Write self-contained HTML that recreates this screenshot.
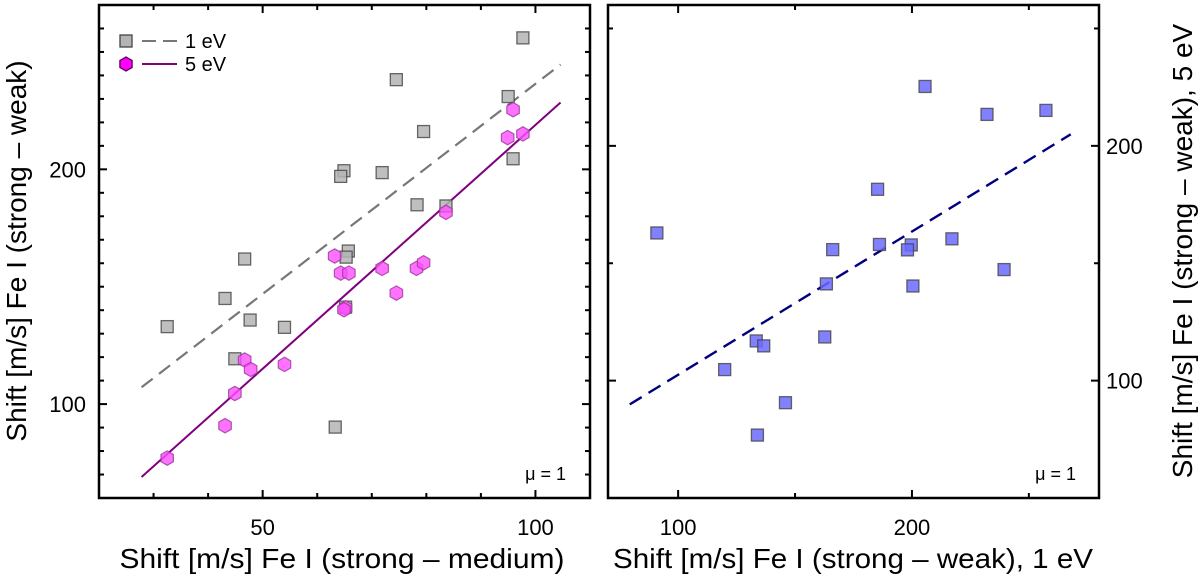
<!DOCTYPE html>
<html><head><meta charset="utf-8">
<style>
html,body{margin:0;padding:0;background:#fff;}
svg{display:block;font-family:"Liberation Sans",Arial,sans-serif;}
</style></head>
<body>
<svg id="chart" width="1200" height="576" viewBox="0 0 1200 576" xmlns="http://www.w3.org/2000/svg"></svg>
<script>
// ---- Left panel data ----
const grayX = [97.7,74.5,95.0,79.5,95.9,64.9,64.3,71.9,78.3,83.6,65.7,65.3,46.7,43.1,32.5,47.7,54.0,44.9,63.3,65.2];
const grayY = [256.0,238.2,231.0,216.1,204.5,199.4,197.0,198.6,184.9,184.4,165.2,162.6,161.8,145.0,133.0,135.8,132.7,119.3,90.2,141.3];
const magX = [95.9,94.9,97.7,83.6,63.2,64.3,65.8,71.9,78.2,79.5,74.5,65.2,64.9,46.7,47.8,54.0,44.9,43.1,32.5];
const magY = [225.4,213.5,215.1,181.7,163.1,155.8,155.8,157.8,157.8,160.2,147.3,141.0,140.2,118.8,114.8,116.9,104.5,90.8,77.0];
const grayFit = [1.79, 57.4];   // slope, intercept
const magFit = [2.077, 11.2];
const leftFitRange = [27.8, 104.6];
const leftXTicks = [30,40,50,60,70,80,90,100];
const leftXLabels = [50,100];
const leftYTicks = [70,80,90,100,110,120,130,140,150,160,170,180,190,200,210,220,230,240,250,260];
const leftYLabels = [100,200];
// ---- Right panel data ----
const blueX = [90.9,205.6,232.1,257.3,185.3,166.1,186.1,199.7,198.1,217.1,239.4,163.4,200.4,162.7,133.4,136.6,119.9,145.9,133.9];
const blueY = [162.9,225.3,213.4,215.1,181.5,155.8,158.0,157.8,155.7,160.4,147.3,141.2,140.3,118.6,116.9,114.8,104.7,90.6,76.8];
const blueFit = [0.610, 41.5];
const rightFitRange = [79.3, 267.9];
const rightXTicks = [100,150,200,250];
const rightXLabels = [100,200];
const rightYTicks = [100,150,200,250];
const rightYLabels = [100,200];

const NS = "http://www.w3.org/2000/svg";
const svg = document.getElementById('chart');
function mk(tag, attrs, parent){
  const e = document.createElementNS(NS, tag);
  for (const k in attrs) e.setAttribute(k, attrs[k]);
  (parent||svg).appendChild(e);
  return e;
}
function txt(s, attrs, parent){ const t = mk('text', attrs, parent); t.textContent = s; return t; }

const L = {x0:99, x1:590, y0:5, y1:498, xmin:20, xmax:110, ymin:60, ymax:270};
const R = {x0:608, x1:1099, y0:5, y1:498, xmin:70, xmax:280, ymin:50, ymax:260};
function sx(p, v){ return p.x0 + (v - p.xmin) / (p.xmax - p.xmin) * (p.x1 - p.x0); }
function sy(p, v){ return p.y1 - (v - p.ymin) / (p.ymax - p.ymin) * (p.y1 - p.y0); }

function frame(p, name, xt, xl, yt, yl){
  const g = mk('g', {});
  
  
  for (const v of xt){
    const x = sx(p, v), major = xl.includes(v), len = major ? 8 : 5;
    const t1 = mk('line', {x1:x, x2:x, y1:p.y1, y2:p.y1-len, stroke:'#000','stroke-width':2}, g);
    
    
    const t2 = mk('line', {x1:x, x2:x, y1:p.y0, y2:p.y0+len, stroke:'#000','stroke-width':2}, g);
    
    
  }
  for (const v of xl){
    const l = txt(String(v), {x:sx(p,v), y:535, 'text-anchor':'middle', 'font-size':22}, g);
    
    
  }
  for (const v of yt){
    const y = sy(p, v), major = yl.includes(v), len = major ? 8 : 5;
    const t1 = mk('line', {x1:p.x0, x2:p.x0+len, y1:y, y2:y, stroke:'#000','stroke-width':2}, g);
    
    
    const t2 = mk('line', {x1:p.x1, x2:p.x1-len, y1:y, y2:y, stroke:'#000','stroke-width':2}, g);
    
    
  }
  const r = mk('rect', {x:p.x0, y:p.y0, width:p.x1-p.x0, height:p.y1-p.y0, fill:'none', stroke:'#000', 'stroke-width':2.5}, g);
  
  
  return g;
}

function square(x, y, fill, stroke, name){
  const s = mk('rect', {x:x-6, y:y-6, width:12, height:12, fill:fill, 'fill-opacity':0.85, stroke:stroke, 'stroke-width':1.3, 'stroke-opacity':0.8});
  
  
  return s;
}
function hexagon(x, y, name){
  const r = 7.2, pts = [];
  for (let i = 0; i < 6; i++){ const a = Math.PI/6 + i*Math.PI/3; pts.push((x + r*Math.cos(a)).toFixed(1) + ',' + (y + r*Math.sin(a)).toFixed(1)); }
  const h = mk('polygon', {points:pts.join(' '), fill:'#ff4dff', 'fill-opacity':0.8, stroke:'#9a3a9a', 'stroke-width':1.2, 'stroke-opacity':0.8});
  
  
  return h;
}
function fitLine(p, fit, range, attrs, name){
  const l = mk('line', Object.assign({x1:sx(p,range[0]), y1:sy(p, fit[0]*range[0]+fit[1]), x2:sx(p,range[1]), y2:sy(p, fit[0]*range[1]+fit[1])}, attrs));
  
  
}

// ---- Left panel ----
frame(L, 'left-panel', leftXTicks, leftXLabels, leftYTicks, leftYLabels);
for (const v of leftYLabels){
  const l = txt(String(v), {x:86, y:sy(L,v)+8, 'text-anchor':'end', 'font-size':22});
  
  
}
fitLine(L, grayFit, leftFitRange, {stroke:'#777', 'stroke-width':2.2, 'stroke-dasharray':'14,8'}, 'fit-line-1ev');
fitLine(L, magFit, leftFitRange, {stroke:'#800080', 'stroke-width':2}, 'fit-line-5ev');
for (let i = 0; i < grayX.length; i++) square(sx(L,grayX[i]), sy(L,grayY[i]), '#b4b4b4', '#444', 'point-1ev');
for (let i = 0; i < magX.length; i++) hexagon(sx(L,magX[i]), sy(L,magY[i]), 'point-5ev');

// legend
const lg = mk('g', {});


const ls = mk('rect', {x:120, y:35, width:12, height:12, fill:'#b4b4b4', stroke:'#444', 'stroke-width':1.3}, lg);


mk('line', {x1:142, x2:177, y1:41, y2:41, stroke:'#777', 'stroke-width':2, 'stroke-dasharray':'14,7'}, lg);
const l1 = txt('1 eV', {x:185, y:48, 'font-size':20}, lg);


const lhPts = [];
for (let i = 0; i < 6; i++){ const a = Math.PI/6 + i*Math.PI/3; lhPts.push((126 + 7*Math.cos(a)).toFixed(1) + ',' + (64 + 7*Math.sin(a)).toFixed(1)); }
const lh = mk('polygon', {points:lhPts.join(' '), fill:'#ff00ff', stroke:'#600060', 'stroke-width':1.3}, lg);


mk('line', {x1:142, x2:177, y1:64, y2:64, stroke:'#800080', 'stroke-width':2}, lg);
const l2 = txt('5 eV', {x:185, y:71, 'font-size':20}, lg);



const mu1 = txt('\u03bc = 1', {x:566, y:480, 'text-anchor':'end', 'font-size':18});



const xt1 = txt('Shift [m/s] Fe I (strong \u2013 medium)', {x:342, y:568, 'text-anchor':'middle', 'font-size':28, textLength:445, lengthAdjust:'spacingAndGlyphs'});


const yt1 = txt('Shift [m/s] Fe I (strong \u2013 weak)', {x:0, y:0, 'text-anchor':'middle', 'font-size':28, transform:'translate(26,251) rotate(-90)'});



// ---- Right panel ----
frame(R, 'right-panel', rightXTicks, rightXLabels, rightYTicks, rightYLabels);
for (const v of rightYLabels){
  const l = txt(String(v), {x:1106, y:sy(R,v)+8, 'text-anchor':'start', 'font-size':22});
  
  
}
fitLine(R, blueFit, rightFitRange, {stroke:'#000080', 'stroke-width':2.4, 'stroke-dasharray':'14,8'}, 'fit-line-right');
for (let i = 0; i < blueX.length; i++) square(sx(R,blueX[i]), sy(R,blueY[i]), '#6b6bff', '#444', 'point-right');

const mu2 = txt('\u03bc = 1', {x:1076, y:480, 'text-anchor':'end', 'font-size':18});


const xt2 = txt('Shift [m/s] Fe I (strong \u2013 weak), 1 eV', {x:853, y:568, 'text-anchor':'middle', 'font-size':28, textLength:480, lengthAdjust:'spacingAndGlyphs'});


const yt2 = txt('Shift [m/s] Fe I (strong \u2013 weak), 5 eV', {x:0, y:0, 'text-anchor':'middle', 'font-size':28, transform:'translate(1192,251) rotate(-90)'});


</script>
</body></html>
